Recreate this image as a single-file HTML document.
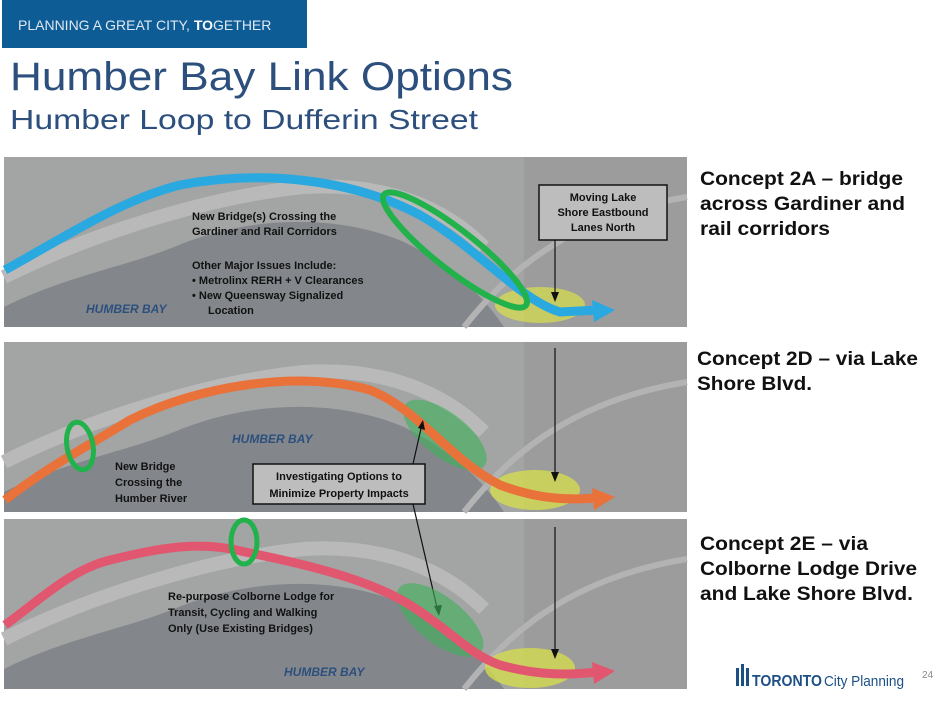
<!DOCTYPE html>
<html><head><meta charset="utf-8"><style>
html,body{margin:0;padding:0;background:#fff;}
svg{display:block;font-family:"Liberation Sans",sans-serif;}
</style></head><body>
<svg width="948" height="705" viewBox="0 0 948 705" xmlns="http://www.w3.org/2000/svg">
<defs>
<g id="panel">
  <rect x="0" y="0" width="683" height="170" fill="#a3a4a4"/>
  <path d="M0,150 C60,120 120,110 170,90 C240,60 330,55 400,85 C450,110 480,140 500,170 L0,170 Z" fill="#83878b"/>
  <path d="M0,120 C80,80 200,40 300,30 C380,25 440,50 480,90" stroke="#b9b9b9" stroke-width="14" fill="none"/>
  <rect x="520" y="0" width="163" height="170" fill="#9c9c9c"/>
  <path d="M460,170 C500,120 560,60 683,40" stroke="#b3b3b3" stroke-width="6" fill="none"/>
</g>
</defs>

<rect x="2" y="0" width="305" height="48" fill="#0e5c96"/>
<text x="18" y="30" font-size="14" fill="#dfe8f2">PLANNING A GREAT CITY, <tspan font-weight="bold" fill="#fff">TO</tspan>GETHER</text>
<text x="10" y="90" font-size="40" fill="#2c4f7e" textLength="503" lengthAdjust="spacingAndGlyphs">Humber Bay Link Options</text>
<text x="10" y="129" font-size="28" fill="#2c4f7e" textLength="468" lengthAdjust="spacingAndGlyphs">Humber Loop to Dufferin Street</text>

<use href="#panel" x="4" y="157"/>
<use href="#panel" x="4" y="342"/>
<use href="#panel" x="4" y="519"/>

<!-- panel 1 -->
<ellipse cx="540" cy="305" rx="45" ry="18" fill="#d8e04a" opacity="0.7"/>
<path d="M5,270 C60,240 120,200 180,185 C260,170 350,178 420,215 C480,250 520,300 560,312 L598,310" stroke="#2aa8e0" stroke-width="9" fill="none"/>
<path d="M592,300 L615,310 L594,322 Z" fill="#2aa8e0"/>
<ellipse cx="455" cy="250" rx="90" ry="20" transform="rotate(38 455 250)" fill="none" stroke="#22b24c" stroke-width="6"/>
<text font-size="11" font-weight="bold" fill="#111"><tspan x="192" y="220">New Bridge(s) Crossing the</tspan><tspan x="192" y="235">Gardiner and Rail Corridors</tspan><tspan x="192" y="269">Other Major Issues Include:</tspan><tspan x="192" y="284">•   Metrolinx RERH + V Clearances</tspan><tspan x="192" y="299">•   New Queensway Signalized</tspan><tspan x="208" y="314">Location</tspan></text>
<text x="86" y="313" font-size="12" font-weight="bold" font-style="italic" fill="#2c4f7e">HUMBER BAY</text>
<rect x="539" y="185" width="128" height="55" fill="#bdbdbd" stroke="#111" stroke-width="1.5"/>
<text font-size="11" font-weight="bold" fill="#111" text-anchor="middle"><tspan x="603" y="201">Moving Lake</tspan><tspan x="603" y="216">Shore Eastbound</tspan><tspan x="603" y="231">Lanes North</tspan></text>
<line x1="555" y1="240" x2="555" y2="298" stroke="#111" stroke-width="1.2"/>
<path d="M551,292 L555,302 L559,292 Z" fill="#111"/>

<!-- panel 2 -->
<ellipse cx="445" cy="435" rx="50" ry="22" transform="rotate(38 445 435)" fill="#3cb35a" opacity="0.6"/>
<ellipse cx="535" cy="490" rx="45" ry="20" fill="#d8e04a" opacity="0.75"/>
<path d="M5,500 C50,465 90,445 130,420 C200,385 300,370 370,390 C420,410 450,460 500,485 C540,500 570,500 598,498" stroke="#e8723a" stroke-width="9" fill="none"/>
<path d="M592,488 L615,497 L594,510 Z" fill="#e8723a"/>
<ellipse cx="80" cy="446" rx="13" ry="24" transform="rotate(-10 80 446)" fill="none" stroke="#22b24c" stroke-width="5"/>
<text x="232" y="443" font-size="12" font-weight="bold" font-style="italic" fill="#2c4f7e">HUMBER BAY</text>
<text font-size="11" font-weight="bold" fill="#111"><tspan x="115" y="470">New Bridge</tspan><tspan x="115" y="486">Crossing the</tspan><tspan x="115" y="502">Humber River</tspan></text>
<rect x="253" y="464" width="172" height="40" fill="#bdbdbd" stroke="#111" stroke-width="1.5"/>
<text font-size="11" font-weight="bold" fill="#111" text-anchor="middle"><tspan x="339" y="480">Investigating Options to</tspan><tspan x="339" y="497">Minimize Property Impacts</tspan></text>
<line x1="555" y1="348" x2="555" y2="478" stroke="#111" stroke-width="1.2"/>
<path d="M551,472 L555,482 L559,472 Z" fill="#111"/>
<line x1="413" y1="464" x2="422" y2="424" stroke="#111" stroke-width="1.2"/>
<path d="M418,428 L423,420 L425,430 Z" fill="#111"/>
<line x1="413" y1="504" x2="438" y2="612" stroke="#111" stroke-width="1.2"/>
<path d="M434,606 L439,616 L442,605 Z" fill="#111"/>

<!-- panel 3 -->
<ellipse cx="440" cy="620" rx="52" ry="23" transform="rotate(38 440 620)" fill="#3cb35a" opacity="0.6"/>
<ellipse cx="530" cy="668" rx="45" ry="20" fill="#d8e04a" opacity="0.75"/>
<path d="M5,625 C40,600 70,570 110,560 C160,548 200,540 245,552 C310,565 370,580 410,605 C450,630 470,655 500,665 C540,676 570,675 598,672" stroke="#e25770" stroke-width="9" fill="none"/>
<path d="M592,662 L615,671 L594,684 Z" fill="#e25770"/>
<ellipse cx="244" cy="542" rx="13" ry="22" fill="none" stroke="#22b24c" stroke-width="5"/>
<text font-size="11" font-weight="bold" fill="#111"><tspan x="168" y="600">Re-purpose Colborne Lodge for</tspan><tspan x="168" y="616">Transit, Cycling and Walking</tspan><tspan x="168" y="632">Only (Use Existing Bridges)</tspan></text>
<text x="284" y="676" font-size="12" font-weight="bold" font-style="italic" fill="#2c4f7e">HUMBER BAY</text>
<line x1="555" y1="527" x2="555" y2="655" stroke="#111" stroke-width="1.2"/>
<path d="M551,649 L555,659 L559,649 Z" fill="#111"/>

<!-- right labels -->
<g font-size="19" font-weight="bold" fill="#111">
<text x="700" y="185" textLength="203" lengthAdjust="spacingAndGlyphs">Concept 2A – bridge</text>
<text x="700" y="210" textLength="205" lengthAdjust="spacingAndGlyphs">across Gardiner and</text>
<text x="700" y="235" textLength="130" lengthAdjust="spacingAndGlyphs">rail corridors</text>
<text x="697" y="365" textLength="221" lengthAdjust="spacingAndGlyphs">Concept 2D – via Lake</text>
<text x="697" y="390" textLength="115" lengthAdjust="spacingAndGlyphs">Shore Blvd.</text>
<text x="700" y="550" textLength="168" lengthAdjust="spacingAndGlyphs">Concept 2E – via</text>
<text x="700" y="575" textLength="217" lengthAdjust="spacingAndGlyphs">Colborne Lodge Drive</text>
<text x="700" y="600" textLength="213" lengthAdjust="spacingAndGlyphs">and Lake Shore Blvd.</text>
</g>

<g fill="#1b4f86">
<rect x="736" y="668" width="3" height="18"/><rect x="741" y="664" width="3" height="22"/><rect x="746" y="668" width="3" height="18"/>
<text x="752" y="686" font-size="16" font-weight="bold" textLength="70" lengthAdjust="spacingAndGlyphs">TORONTO</text>
<text x="824" y="686" font-size="15" textLength="80" lengthAdjust="spacingAndGlyphs">City Planning</text>
</g>
<text x="922" y="678" font-size="10" fill="#888">24</text>
</svg>
</body></html>
